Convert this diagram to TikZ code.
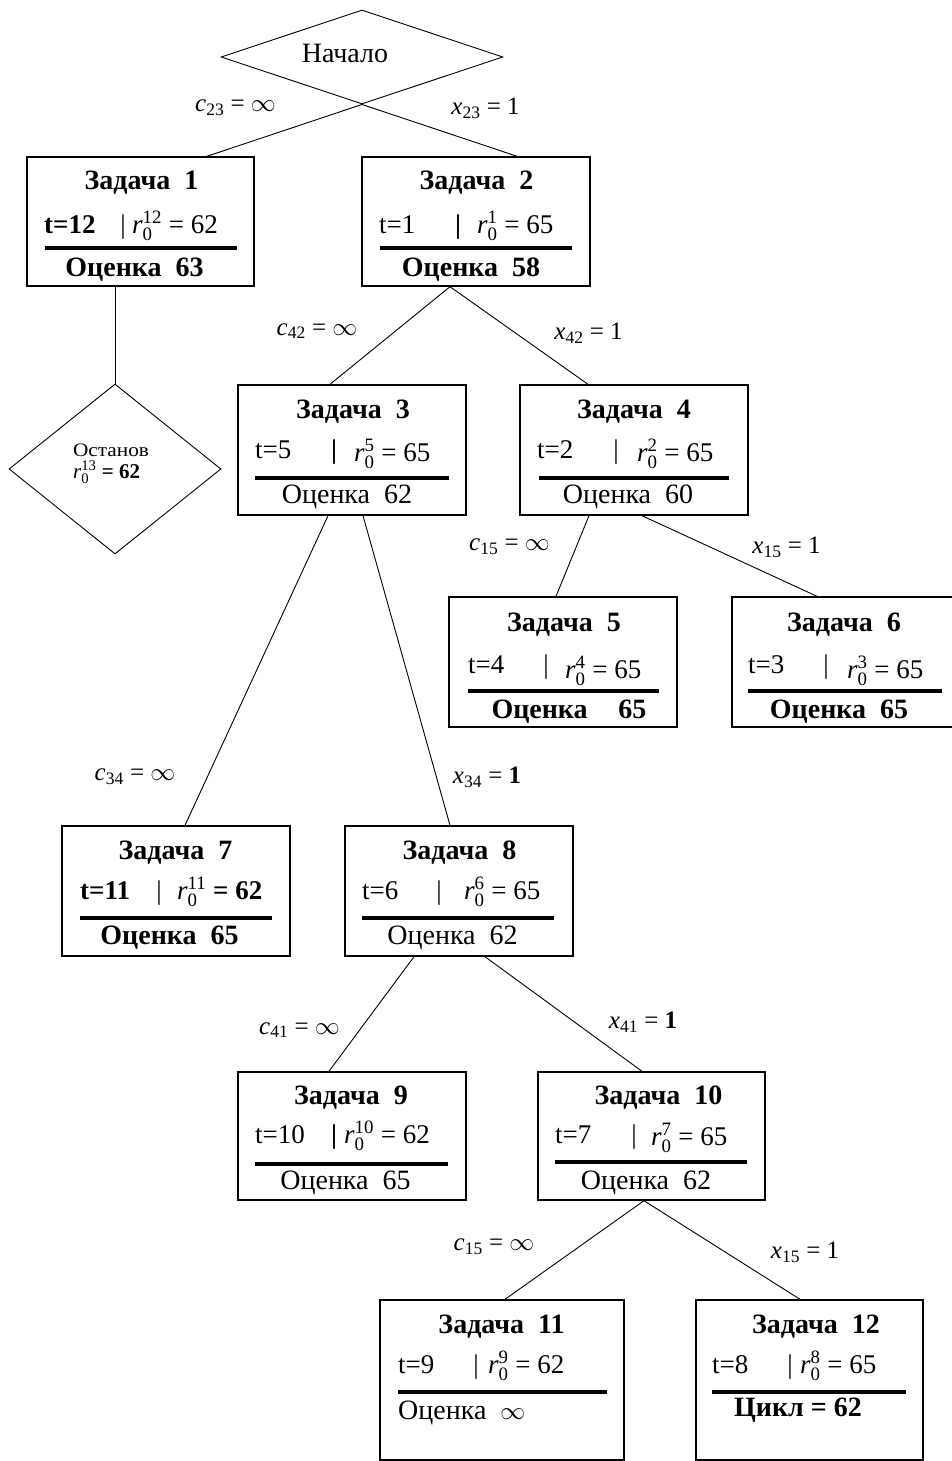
\documentclass[tikz,border=0pt]{standalone}
\usepackage{amsmath}
\usepackage{fontspec}
\setmainfont{Liberation Serif}
\usetikzlibrary{shapes.geometric}
\newcommand\rz[1]{$\text{\itshape r}_{\text{0}}^{\text{#1}}$}
\newcommand\lab[3]{\textit{#1}$_{\text{#2}}$ = #3}
\newcommand\fsz{\fontsize{28}{32}\selectfont}
\tikzset{
  taskbox/.style={draw, line width=1.4pt, inner sep=0pt},
  ttl/.style={font=\fsz\bfseries, anchor=base, inner sep=0pt},
  rowt/.style={font=\fontsize{27}{31}\selectfont, anchor=base west, inner sep=0pt},
  rowb/.style={font=\fontsize{27}{31}\selectfont, anchor=base, inner sep=0pt},
  est/.style={font=\fsz, anchor=base, inner sep=0pt},
  bold/.append style={font=\fsz\bfseries},
  sepline/.style={line width=3.3pt},
  conn/.style={line width=0.9pt},
  elabel/.style={font=\fontsize{25}{29}\selectfont, inner sep=0pt},
  dia/.style={draw, diamond, line width=0.9pt, inner sep=0pt},
}
\begin{document}
\begin{tikzpicture}[x=1pt,y=-1pt]
\useasboundingbox[fill=white] (0,0) rectangle (952,1461);

% start diamond
\node[dia, minimum width=282, minimum height=94] (start) at (362,57) {};
\node[font=\fontsize{28}{32}\selectfont, anchor=base, inner sep=0pt] (startt) at (345,63) {Начало};

% boxes
\node[taskbox, minimum width=227, minimum height=129] (b1) at (140.5,221.5) {};
\node[taskbox, minimum width=228, minimum height=129] (b2) at (476,221.5) {};
\node[taskbox, minimum width=228, minimum height=130] (b3) at (352,450) {};
\node[taskbox, minimum width=228, minimum height=130] (b4) at (634,450) {};
\node[taskbox, minimum width=228, minimum height=130] (b5) at (563,662) {};
\node[taskbox, minimum width=228, minimum height=130] (b6) at (846,662) {};
\node[taskbox, minimum width=228, minimum height=130] (b7) at (176,891) {};
\node[taskbox, minimum width=228, minimum height=130] (b8) at (459,891) {};
\node[taskbox, minimum width=228, minimum height=128] (b9) at (352,1136) {};
\node[taskbox, minimum width=227, minimum height=128] (b10) at (651.5,1136) {};
\node[taskbox, minimum width=244, minimum height=160] (b11) at (502,1380) {};
\node[taskbox, minimum width=227, minimum height=160] (b12) at (809.5,1380) {};

% stop diamond
\node[dia, minimum width=212, minimum height=170] (stop) at (115,469) {};
\node[font=\fontsize{19}{22}\selectfont, anchor=base, inner sep=0pt] (stopa) at (111,456) {\scalebox{1.12}[1]{Останов}};
\node[font=\fontsize{21}{24}\selectfont, anchor=base west, inner sep=0pt] (stopb) at (73,478) {\rz{13} \textbf{= 62}};

% box 1
\node[ttl] (b1a) at (141.5,189) {Задача\hspace{0.5em}1};
\node[rowt, font=\fontsize{27}{31}\selectfont\bfseries] (b1t) at (44,233) {t=12};
\node[rowb] (b1v) at (123,233) {|};
\node[rowt] (b1r) at (132,233) {\rz{12} = 62};
\draw[sepline] (45,248) -- (237,248);
\node[est, bold] (b1e) at (134.5,276) {Оценка\hspace{0.5em}63};

% box 2
\node[ttl] (b2a) at (476.5,189) {Задача\hspace{0.5em}2};
\node[rowt] (b2t) at (379,233) {t=1};
\node[rowb, font=\fontsize{27}{31}\selectfont\bfseries] (b2v) at (458,233) {|};
\node[rowt] (b2r) at (477,233) {\rz{1} = 65};
\draw[sepline] (380,248) -- (572,248);
\node[est, bold] (b2e) at (471,276) {Оценка\hspace{0.5em}58};

% box 3
\node[ttl] (b3a) at (353,418) {Задача\hspace{0.5em}3};
\node[rowt] (b3t) at (255,458) {t=5};
\node[rowb, font=\fontsize{27}{31}\selectfont\bfseries] (b3v) at (334,458) {|};
\node[rowt] (b3r) at (354,461) {\rz{5} = 65};
\draw[sepline] (255,478) -- (449,478);
\node[est] (b3e) at (347,503) {Оценка\hspace{0.5em}62};

% box 4
\node[ttl] (b4a) at (634,418) {Задача\hspace{0.5em}4};
\node[rowt] (b4t) at (537,458) {t=2};
\node[rowb] (b4v) at (616,458) {|};
\node[rowt] (b4r) at (637,461) {\rz{2} = 65};
\draw[sepline] (539,478) -- (729,478);
\node[est] (b4e) at (628,503) {Оценка\hspace{0.5em}60};

% box 5
\node[ttl] (b5a) at (564,631) {Задача\hspace{0.5em}5};
\node[rowt] (b5t) at (468,673) {t=4};
\node[rowb] (b5v) at (546,673) {|};
\node[rowt] (b5r) at (565,678) {\rz{4} = 65};
\draw[sepline] (468,691) -- (659,691);
\node[est, bold] (b5e) at (569,718) {Оценка\hspace{1.1em}65};

% box 6
\node[ttl] (b6a) at (844,631) {Задача\hspace{0.5em}6};
\node[rowt] (b6t) at (748,673) {t=3};
\node[rowb] (b6v) at (826,673) {|};
\node[rowt] (b6r) at (847,678) {\rz{3} = 65};
\draw[sepline] (748,691) -- (942,691);
\node[est, bold] (b6e) at (839,718) {Оценка\hspace{0.5em}65};

% box 7
\node[ttl] (b7a) at (175.5,859) {Задача\hspace{0.5em}7};
\node[rowt, font=\fontsize{27}{31}\selectfont\bfseries] (b7t) at (80,899) {t=11};
\node[rowb] (b7v) at (159,899) {|};
\node[rowt] (b7r) at (177,899) {\rz{11} \textbf{= 62}};
\draw[sepline] (80,918) -- (272,918);
\node[est, bold] (b7e) at (169.5,944) {Оценка\hspace{0.5em}65};

% box 8
\node[ttl] (b8a) at (459.5,859) {Задача\hspace{0.5em}8};
\node[rowt] (b8t) at (362,899) {t=6};
\node[rowb] (b8v) at (439,899) {|};
\node[rowt] (b8r) at (464,899) {\rz{6} = 65};
\draw[sepline] (362,918) -- (554,918);
\node[est] (b8e) at (452.5,944) {Оценка\hspace{0.5em}62};

% box 9
\node[ttl] (b9a) at (351,1104) {Задача\hspace{0.5em}9};
\node[rowt] (b9t) at (255,1143) {t=10};
\node[rowb, font=\fontsize{27}{31}\selectfont\bfseries] (b9v) at (334,1143) {|};
\node[rowt] (b9r) at (344,1143) {\rz{10} = 62};
\draw[sepline] (255,1164) -- (448,1164);
\node[est] (b9e) at (345.5,1189) {Оценка\hspace{0.5em}65};

% box 10
\node[ttl] (b10a) at (658.5,1104) {Задача\hspace{0.5em}10};
\node[rowt] (b10t) at (555,1143) {t=7};
\node[rowb] (b10v) at (634,1143) {|};
\node[rowt] (b10r) at (651,1145) {\rz{7} = 65};
\draw[sepline] (555,1162) -- (747,1162);
\node[est] (b10e) at (646,1189) {Оценка\hspace{0.5em}62};

% box 11
\node[ttl] (b11a) at (501.5,1333) {Задача\hspace{0.5em}11};
\node[rowt] (b11t) at (398,1373) {t=9};
\node[rowb] (b11v) at (476,1373) {|};
\node[rowt] (b11r) at (488,1373) {\rz{9} = 62};
\draw[sepline] (398,1392) -- (607,1392);
\node[rowt, font=\fsz] (b11e) at (398,1419) {Оценка\hspace{0.5em}$\infty$};

% box 12
\node[ttl] (b12a) at (816,1333) {Задача\hspace{0.5em}12};
\node[rowt] (b12t) at (712,1373) {t=8};
\node[rowb] (b12v) at (790,1373) {|};
\node[rowt] (b12r) at (800,1373) {\rz{8} = 65};
\draw[sepline] (712,1392) -- (906,1392);
\node[est, bold] (b12e) at (798,1416) {Цикл = 62};

% connectors
\draw[conn] (start.south) -- ([xshift=66.5pt]b1.north);
\draw[conn] (start.south) -- ([xshift=41pt]b2.north);
\draw[conn] ([xshift=-25.5pt]b1.south) -- (stop.north);
\draw[conn] ([xshift=-26pt]b2.south) -- ([xshift=-22pt]b3.north);
\draw[conn] ([xshift=-26pt]b2.south) -- ([xshift=-46pt]b4.north);
\draw[conn] ([xshift=-24pt]b3.south) -- ([xshift=9pt]b7.north);
\draw[conn] ([xshift=11pt]b3.south) -- ([xshift=-9pt]b8.north);
\draw[conn] ([xshift=-45pt]b4.south) -- ([xshift=-7pt]b5.north);
\draw[conn] ([xshift=8pt]b4.south) -- ([xshift=-29pt]b6.north);
\draw[conn] ([xshift=-45pt]b8.south) -- ([xshift=-23pt]b9.north);
\draw[conn] ([xshift=26pt]b8.south) -- ([xshift=-9.5pt]b10.north);
\draw[conn] ([xshift=-7.5pt]b10.south) -- ([xshift=3pt]b11.north);
\draw[conn] ([xshift=-7.5pt]b10.south) -- ([xshift=-9.5pt]b12.north);

% edge labels
\node[elabel] (l1) at (235.5,108) {\lab{c}{23}{$\infty$}};
\node[elabel] (l2) at (485.5,108) {\lab{x}{23}{1}};
\node[elabel] (l3) at (317,331) {\lab{c}{42}{$\infty$}};
\node[elabel] (l4) at (588.5,333) {\lab{x}{42}{1}};
\node[elabel] (l5) at (509.5,547) {\lab{c}{15}{$\infty$}};
\node[elabel] (l6) at (786.5,547) {\lab{x}{15}{1}};
\node[elabel] (l7) at (135,777) {\lab{c}{34}{$\infty$}};
\node[elabel] (l8) at (487,777) {\lab{x}{34}{\textbf{1}}};
\node[elabel] (l9) at (299.5,1030) {\lab{c}{41}{$\infty$}};
\node[elabel] (l10) at (643,1022) {\lab{x}{41}{\textbf{1}}};
\node[elabel] (l11) at (494,1247) {\lab{c}{15}{$\infty$}};
\node[elabel] (l12) at (805,1252) {\lab{x}{15}{1}};
\end{tikzpicture}
\end{document}
